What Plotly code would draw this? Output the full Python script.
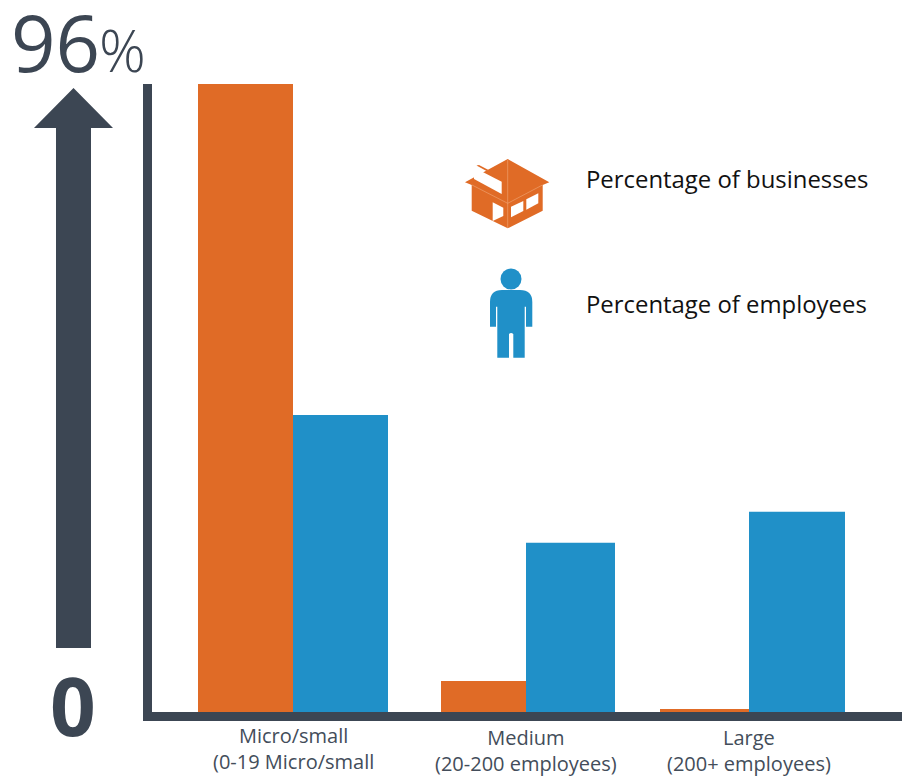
import plotly.graph_objects as go

# Share of each company-size group, in percent
categories = ["Micro/small", "Medium", "Large"]
category_notes = ["(0-19 Micro/small", "(20-200 employees)", "(200+ employees)"]
businesses = [96, 4.9, 0.6]
employees = [45.5, 26, 30.7]
series_names = ["Percentage of businesses", "Percentage of employees"]

W, H = 902, 777
ORANGE = "#e06b26"
BLUE = "#2090c8"
SLATE = "#3c4653"
TEXT = "#434d5a"
FONT = "Open Sans"

# Bar edges along the x axis, whose range is the figure width
biz_edges = [(198, 293), (441, 526), (660, 749)]
emp_edges = [(293, 388), (526, 615), (749, 845)]
label_x = [293, 526, 749]
label_y = [748, 750, 750]

# y axis: zero sits on the baseline, the 96 bar reaches the top of the spine
BASE_PX, TOP_PX = 713, 84
units_per_px = 96 / (BASE_PX - TOP_PX)
y_range = [-(H - BASE_PX) * units_per_px, BASE_PX * units_per_px]


def px(x, y):
    return f"{x / W:.5f},{1 - y / H:.5f}"


def poly(points, close=True):
    body = " L".join(px(x, y) for x, y in points)
    return "M" + body + (" Z" if close else "")


def fill_shape(path, color):
    return dict(type="path", xref="paper", yref="paper", path=path,
                fillcolor=color, line=dict(width=0), layer="above")


def seam(points):
    return dict(type="path", xref="paper", yref="paper", path=poly(points, close=False),
                line=dict(color="#f0a878", width=0.6), layer="above")


def center(edges):
    return [(a + b) / 2 for a, b in edges]


def widths(edges):
    return [b - a for a, b in edges]


fig = go.Figure()
fig.add_bar(x=center(biz_edges), y=businesses, width=widths(biz_edges),
            name=series_names[0], marker=dict(color=ORANGE, line=dict(width=0)))
fig.add_bar(x=center(emp_edges), y=employees, width=widths(emp_edges),
            name=series_names[1], marker=dict(color=BLUE, line=dict(width=0)))

shapes = []

# Chart spines
shapes.append(fill_shape(poly([(143, 84), (152, 84), (152, 712), (902, 712), (902, 721), (143, 721)]), SLATE))

# Big upward arrow
shapes.append(fill_shape(poly([(73.5, 88), (113, 128), (91, 128), (91, 648),
                               (56, 648), (56, 128), (34, 128)]), SLATE))

# Building icon
shapes.append(fill_shape(poly([(507.7, 159), (549.3, 182.3), (542.7, 185), (542.7, 210.7),
                               (507.7, 228.3), (471.7, 210.7), (471.7, 185), (465, 182.3)]), ORANGE))
shapes.append(seam([(507.7, 160), (507.7, 228)]))
shapes.append(seam([(472, 185), (507.7, 203.3), (542.5, 185)]))
shapes.append(fill_shape(poly([(474, 167.5), (501.7, 181.7), (501.7, 194), (474, 179)]), "white"))
shapes.append(fill_shape(poly([(476.5, 165.5), (479, 165), (488.5, 170), (486.5, 171)]), ORANGE))
shapes.append(fill_shape(poly([(492.7, 202.3), (503.3, 207.7), (503.3, 216), (492.7, 221)]), "white"))
shapes.append(fill_shape(poly([(511, 206.7), (523.3, 201), (523.3, 211), (511, 217.3)]), "white"))
shapes.append(fill_shape(poly([(526.3, 199.3), (538.3, 193.3), (538.3, 203.3), (526.3, 209.7)]), "white"))

# Person icon
shapes.append(dict(type="circle", xref="paper", yref="paper",
                   x0=500.5 / W, x1=521.5 / W, y0=1 - 289.5 / H, y1=1 - 268.5 / H,
                   fillcolor=BLUE, line=dict(width=0), layer="above"))
person = (
    f"M{px(490, 326.7)} L{px(490, 302)} Q{px(490, 290)} {px(502, 290)} "
    f"L{px(520, 290)} Q{px(532.3, 290)} {px(532.3, 302)} L{px(532.3, 326.7)} "
    f"L{px(526, 326.7)} L{px(526, 306.7)} L{px(524.7, 306.7)} L{px(524.7, 357.7)} "
    f"L{px(513.3, 357.7)} L{px(513.3, 334)} Q{px(511, 332)} {px(509, 334)} "
    f"L{px(509, 357.7)} L{px(497.3, 357.7)} L{px(497.3, 306.7)} L{px(496, 306.7)} "
    f"L{px(496, 326.7)} Z"
)
shapes.append(fill_shape(person, BLUE))


def text(s, x, y, size, color=TEXT, anchor="center", family=FONT, weight=None):
    fig.add_annotation(xref="paper", yref="paper", x=x / W, y=1 - y / H, text=s,
                       showarrow=False, xanchor=anchor, yanchor="middle",
                       font=dict(family=family, size=size, color=color, weight=weight))


for name, note, x, y in zip(categories, category_notes, label_x, label_y):
    text(f"{name}<br>{note}", x, y, 20)

text(series_names[0], 583.5, 178.5, 23.9, color="#111111", anchor="left")
text(series_names[1], 583.5, 303.5, 23.9, color="#111111", anchor="left")

text("96", 9, 42, 78, color=SLATE, anchor="left", weight=400)
text("%", 97, 50, 58, color=SLATE, anchor="left", weight=300)
text("0", 73, 704, 80, color=SLATE, weight=700)

fig.update_layout(
    width=W, height=H, margin=dict(l=0, r=0, t=0, b=0, pad=0),
    paper_bgcolor="white", plot_bgcolor="white", showlegend=False,
    barmode="overlay", shapes=shapes,
    xaxis=dict(range=[0, W], visible=False, fixedrange=True),
    yaxis=dict(range=y_range, visible=False, fixedrange=True),
)

fig.write_html("out.html", config=dict(displayModeBar=False))
